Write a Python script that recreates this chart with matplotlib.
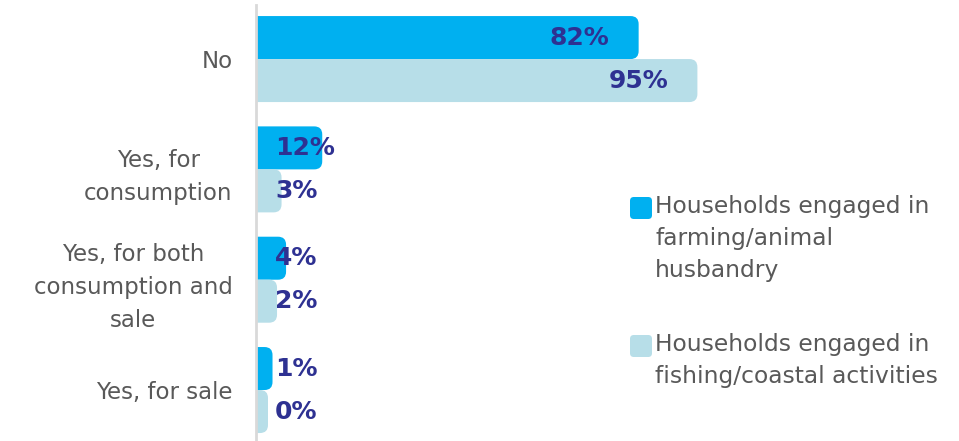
import matplotlib
matplotlib.use("Agg")
import matplotlib.pyplot as plt
from matplotlib.patches import FancyBboxPatch

# data
categories = ["No", "Yes, for\nconsumption", "Yes, for both\nconsumption and\nsale", "Yes, for sale"]
farming = [82, 12, 4, 1]
fishing = [95, 3, 2, 0]
series_labels = ["Households engaged in\nfarming/animal\nhusbandry",
                 "Households engaged in\nfishing/coastal activities"]

DARK = "#00B0F0"
LIGHT = "#B7DEE8"
NAVY = "#2E3192"
GREY_TXT = "#595959"

W, H = 959, 441
fig = plt.figure(figsize=(W / 100, H / 100), dpi=100)
ax = fig.add_axes([256 / W, 0, 452 / W, 436 / H])

n = len(categories)
ypos = [n - 1 - i for i in range(n)]
ax.set_xlim(0, 100)
ax.set_ylim(-0.462, 3.49)

# pixel -> data scale, used to keep corners round
x_per_px = 100 / 452
y_per_px = (3.49 + 0.462) / 436
aspect = y_per_px / x_per_px
radius = 8 * x_per_px
cap = 12 * x_per_px          # rounded end sticks out past the value
bar_h = 43 * y_per_px


def rounded_bar(y0, value, color):
    p = FancyBboxPatch((-3 * radius, y0), value + cap + 3 * radius, bar_h,
                       boxstyle=f"round,pad=0,rounding_size={radius}",
                       mutation_aspect=aspect, facecolor=color,
                       edgecolor="none", clip_on=True)
    ax.add_patch(p)


def value_label(yc, value):
    end = value + cap
    if value > 20:
        ax.text(end - 29 * x_per_px, yc, f"{value}%", ha="right", va="center",
                color=NAVY, fontsize=18, fontweight="bold")
    else:
        ax.text(19 * x_per_px, yc, f"{value}%", ha="left", va="center",
                color=NAVY, fontsize=18, fontweight="bold")


for y, f, s in zip(ypos, farming, fishing):
    rounded_bar(y, f, DARK)
    rounded_bar(y - bar_h, s, LIGHT)
    value_label(y + bar_h / 2, f)
    value_label(y - bar_h / 2, s)

ax.set_yticks(ypos)
ax.set_yticklabels(categories, fontsize=16.5, color=GREY_TXT,
                   multialignment="center", linespacing=1.55)
ax.tick_params(axis="y", length=0, pad=17)
ax.set_xticks([])
for side in ["top", "right", "bottom"]:
    ax.spines[side].set_visible(False)
ax.spines["left"].set_color("#D9D9D9")
ax.spines["left"].set_linewidth(2)

# legend, drawn by hand so the swatch sits on the first line
legend_y = [208, 346]
for lab, col, ly in zip(series_labels, [DARK, LIGHT], legend_y):
    sw = FancyBboxPatch((630 / W, (H - ly - 11) / H), 22 / W, 22 / H,
                        boxstyle="round,pad=0,rounding_size=0.004",
                        mutation_aspect=W / H, transform=fig.transFigure,
                        facecolor=col, edgecolor="none")
    fig.patches.append(sw)
    fig.text(655 / W, (H - ly + 13) / H, lab, ha="left", va="top",
             fontsize=16.8, color=GREY_TXT, linespacing=1.5)

fig.savefig("out.png", dpi=100)
